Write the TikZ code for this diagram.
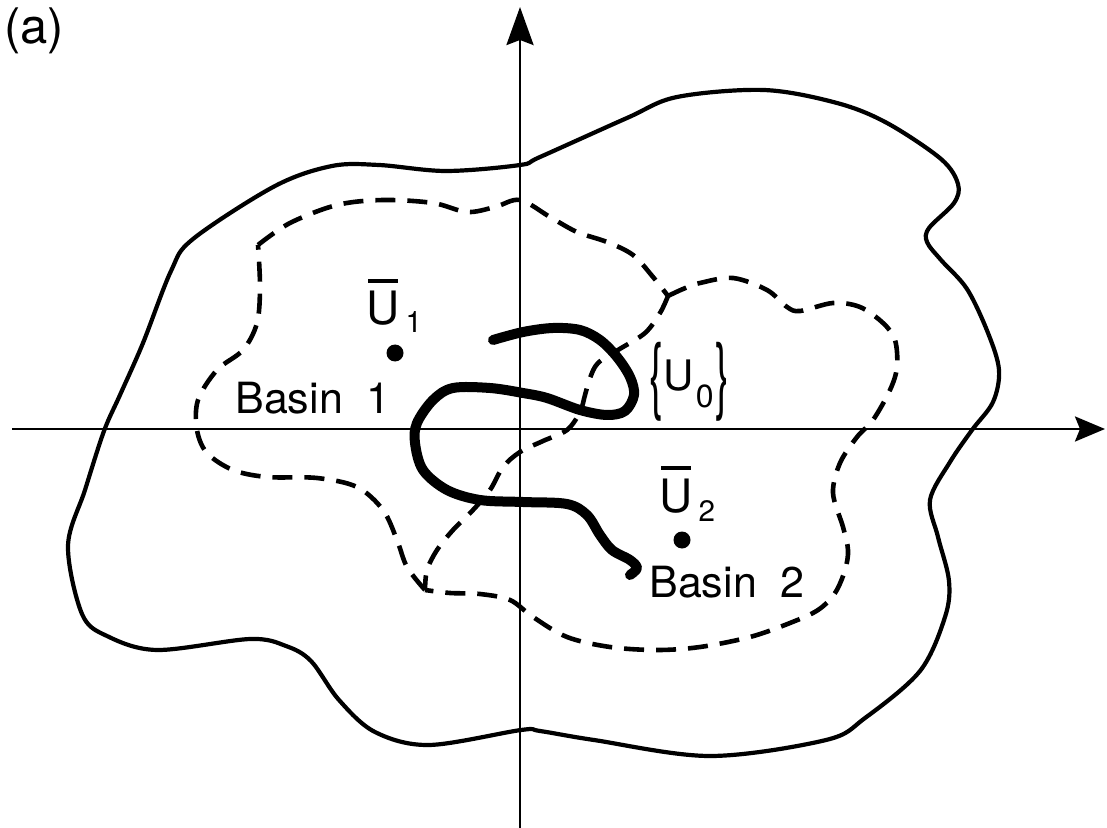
\documentclass[tikz,border=0pt]{standalone}
\usepackage{fontspec}
\setmainfont{TeX Gyre Heros}
\usepackage{graphicx}
\usetikzlibrary{arrows.meta}
% barred U with a lowered index
\newcommand{\Ubar}[2]{\rlap{\hspace{1pt}\rule[21.2pt]{15pt}{1.6pt}}U\hspace{3pt}\raisebox{-#2}{\fontsize{14.8}{16}\selectfont #1}}
% stretched brace
\newcommand{\tallbr}[1]{\raisebox{-6.8pt}{\scalebox{1}[2]{#1}}}
\begin{document}
\begin{tikzpicture}[x=0.5pt,y=-0.5pt,line join=round,
  axis/.style={line width=1.4pt},
  rim/.style={line width=2.1pt},
  sep/.style={line width=2.3pt,dash pattern=on 10pt off 6pt},
  orbit/.style={line width=5pt,line cap=round},
  lbl/.style={inner sep=0pt,anchor=base west,font=\fontsize{21.5}{24}\selectfont},
  dot/.style={circle,fill,inner sep=0pt,minimum size=8.5pt}]
\useasboundingbox (0,0) rectangle (1107,828);

% axes
\coordinate (xl) at (12,429);
\coordinate (xr) at (1105,429);
\coordinate (yb) at (520,828);
\coordinate (yt) at (520,7);
\draw[axis,-{Stealth[length=15pt,width=12.5pt,inset=2.5pt]}] (xl) -- (xr);
\draw[axis,-{Stealth[length=19pt,width=13.5pt,inset=2.5pt]}] (yb) -- (yt);

% outer boundary
\draw[rim] plot[smooth cycle,tension=0.55] coordinates {
  (520,165) (540,157) (627,118) (677,97) (764,90) (837,103) (887,123)
  (941,159) (958,184) (954,203) (929,228) (927,242) (941,260) (967,289)
  (988,333) (999,370) (993,402) (972,430) (950,462) (930,500) (938,537)
  (949,581) (945,617) (920,671) (865,718) (826,740) (710,756) (594,740)
  (540,731) (521,730) (429,745) (375,732) (339,700) (311,661) (286,646)
  (250,639) (157,650) (107,636) (82,614) (68,546) (85,490) (104,431)
  (120,395) (143,343) (171,271) (193,239) (275,186) (332,166) (379,165)
  (446,171)};

% basin boundaries
\coordinate (jn) at (668,296);
\coordinate (cn) at (425,590);
\coordinate (ck) at (258,245);
\draw[sep] plot[smooth,tension=0.55] coordinates {
  (jn) (683,289) (700,283) (733,278) (767,290) (787,307) (800,311) (833,303)
  (860,307) (883,323) (895,340) (897,367) (890,390) (873,420) (857,437)
  (840,463) (833,493) (843,527) (848,550) (845,570) (835,593) (818,610)
  (790,623) (750,637) (700,647) (657,650) (610,647) (567,637) (533,617)
  (510,600) (480,594) (450,593) (cn)};
\draw[sep] plot[smooth,tension=0.55] coordinates {
  (cn) (407,567) (397,540) (383,510) (357,487) (317,478) (267,477) (233,470)
  (207,453) (197,430) (198,400) (217,370) (243,350) (257,323) (260,287) (ck)};
\draw[sep] plot[smooth,tension=0.55] coordinates {
  (ck) (290,223) (337,205) (383,200) (433,203) (467,212) (495,207) (520,200)
  (550,217) (577,232) (607,242) (633,255) (653,277) (jn)};
\draw[sep] plot[smooth,tension=0.55] coordinates {
  (jn) (660,313) (645,333) (618,350) (598,363) (590,378) (585,395) (580,412)
  (567,430) (543,441) (520,452) (503,467) (490,490) (473,510) (453,530)
  (437,550) (427,570) (cn)};

% trajectory of initial states
\draw[orbit] plot[smooth,tension=0.55] coordinates {
  (493,340) (523,332) (553,328) (580,330) (600,340) (617,357) (630,377)
  (634,395) (625,411) (607,415) (580,410) (547,398) (523,393) (490,388)
  (453,388) (433,400) (417,423) (415,443) (423,470) (447,490) (480,500)
  (523,502) (567,504) (587,515) (600,535) (612,550) (630,560) (637,568)
  (630,575)};

% equilibria
\node[dot] (ubar1) at (395,353) {};
\node[dot] (ubar2) at (682,540) {};

% labels
\node[lbl,font=\fontsize{24.5}{27}\selectfont] (tag) at (4,44) {(a)};
\node[lbl,font=\fontsize{23}{26}\selectfont] (u1lbl) at (366,325) {\Ubar{1}{4pt}};
\node[lbl,font=\fontsize{23}{26}\selectfont] (u2lbl) at (659,512) {\Ubar{2}{4.5pt}};
\node[lbl] (basin1) at (235,413) {Basin\hspace{12pt}1};
\node[lbl] (basin2) at (649,597) {Basin\hspace{12pt}2};
\node[lbl,font=\fontsize{21}{24}\selectfont] (u0lbl) at (649,390)
  {\tallbr{\{}U\hspace{1pt}\raisebox{-9pt}{\fontsize{16}{18}\selectfont 0}\hspace{1pt}\tallbr{\}}};
\end{tikzpicture}
\end{document}
